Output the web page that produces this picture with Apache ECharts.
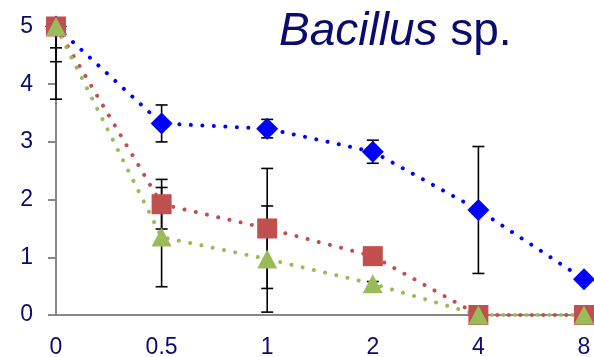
<!DOCTYPE html>
<html><head><meta charset="utf-8">
<script src="https://cdn.jsdelivr.net/npm/echarts@6/dist/echarts.min.js"></script>
<style>html,body{margin:0;padding:0;background:#fff}#c{width:594px;height:357px}</style>
</head><body><div id="c"></div>
<script>
var categories = ['0', '0.5', '1', '2', '4', '8'];
var blueValues = [5, 3.32, 3.23, 2.83, 1.82, 0.62];
var blueErr    = [1.26, 0.32, 0.16, 0.2, 1.1, 0];
var redValues  = [5, 1.92, 1.5, 1.02, 0, 0];
var redErr     = [0.61, 0.43, 1.04, 0.06, 0, 0];
var greenValues = [5, 1.35, 0.97, 0.54, 0, 0];
var greenErr    = [0.37, 0.86, 0.92, 0.04, 0, 0];
var yTicks = [0, 1, 2, 3, 4, 5];

var navy = '#0b0b6e';
function errData(vals, errs) {
  return vals.map(function (v, i) { return [i, v - errs[i], v + errs[i]]; }).filter(function (d) { return d[2] > d[1]; });
}
function renderErr(params, api) {
  var cs = params.coordSys;
  var lo = api.coord([api.value(0), api.value(1)]);
  var hi = api.coord([api.value(0), api.value(2)]);
  var x = lo[0];
  var top = Math.max(hi[1], cs.y);
  var bot = Math.min(lo[1], cs.y + cs.height);
  var st = { stroke: '#000', lineWidth: 1.6 };
  var ch = [{ type: 'line', shape: { x1: x, y1: top, x2: x, y2: bot }, style: st }];
  if (hi[1] >= cs.y) ch.push({ type: 'line', shape: { x1: x - 6, y1: hi[1], x2: x + 6, y2: hi[1] }, style: st });
  if (lo[1] <= cs.y + cs.height) ch.push({ type: 'line', shape: { x1: x - 6, y1: lo[1], x2: x + 6, y2: lo[1] }, style: st });
  return { type: 'group', children: ch };
}
function lineSeries(name, vals, color, symbol, size) {
  return {
    name: name, type: 'line', data: vals, symbol: symbol, symbolSize: size,
    showAllSymbol: true,
    itemStyle: { color: color },
    lineStyle: { color: color, width: 4, type: [0.01, 11.5], cap: 'round' },
    z: 3
  };
}
var chart = echarts.init(document.getElementById('c'));
chart.setOption({
  animation: false,
  title: {
    text: '{i|Bacillus} sp.',
    left: 274, top: 4,
    textStyle: {
      fontFamily: 'Liberation Sans', fontSize: 46, fontWeight: 'normal', color: navy,
      rich: { i: { fontFamily: 'Liberation Sans', fontSize: 46, fontStyle: 'italic', color: navy } }
    }
  },
  grid: { left: 56, right: 10, top: 26.5, bottom: 42, containLabel: false, outerBoundsMode: 'none' },
  xAxis: {
    type: 'category', data: categories, boundaryGap: false,
    axisLine: { lineStyle: { color: '#888', width: 2 } },
    axisTick: { show: false },
    axisLabel: { color: navy, fontFamily: 'Liberation Sans', fontSize: 23, margin: 21 },
    splitLine: { show: false }
  },
  yAxis: {
    type: 'value', min: yTicks[0], max: yTicks[yTicks.length - 1], interval: 1,
    axisLine: { show: true, lineStyle: { color: '#888', width: 2 } },
    axisTick: { show: true, length: 8, lineStyle: { color: '#888', width: 2 } },
    axisLabel: { color: navy, fontFamily: 'Liberation Sans', fontSize: 23, margin: 23 },
    splitLine: { show: false }
  },
  series: [
    { type: 'custom', renderItem: renderErr, data: errData(blueValues, blueErr), z: 2, encode: { x: 0, y: [1, 2] } },
    { type: 'custom', renderItem: renderErr, data: errData(redValues, redErr), z: 2, encode: { x: 0, y: [1, 2] } },
    { type: 'custom', renderItem: renderErr, data: errData(greenValues, greenErr), z: 2, encode: { x: 0, y: [1, 2] } },
    lineSeries('blue', blueValues, '#0000ff', 'diamond', [22, 22]),
    lineSeries('red', redValues, '#c0504d', 'rect', 20),
    lineSeries('green', greenValues, '#9bbb59', 'triangle', [20, 19])
  ]
});
</script>
</body></html>
